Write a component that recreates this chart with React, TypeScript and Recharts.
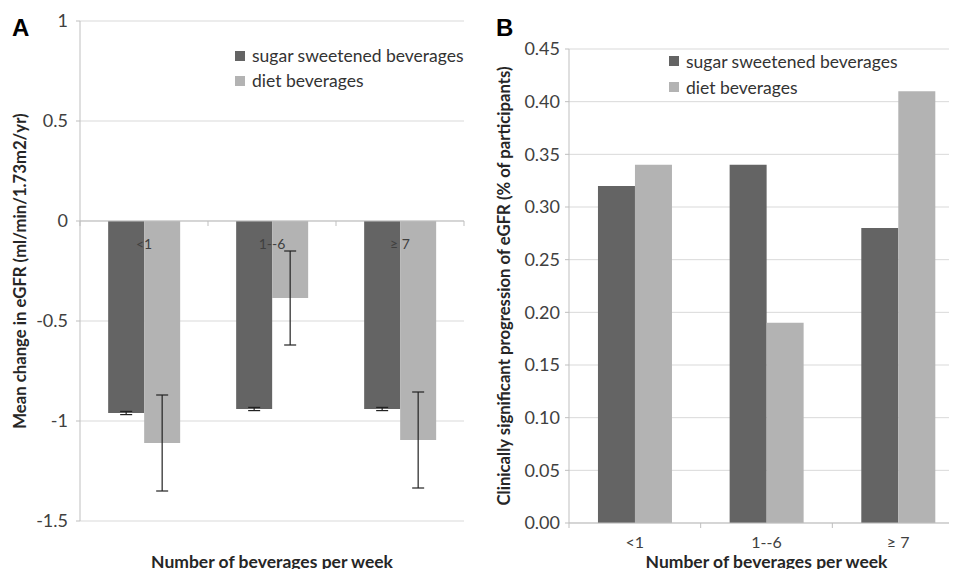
import { BarChart, Bar, XAxis, YAxis, CartesianGrid, Legend, ErrorBar, ReferenceLine } from 'recharts';

const categories = ['<1', '1--6', '≥ 7'];
const seriesNames = ['sugar sweetened beverages', 'diet beverages'];
const seriesColors = ['#646464', '#b3b3b3'];

// panel A: mean change in eGFR
const sugarChangeA = [-0.96, -0.94, -0.94];
const sugarErrA = [0.008, 0.008, 0.008];
const dietChangeA = [-1.11, -0.385, -1.095];
const dietErrA = [0.24, 0.235, 0.24];
const yTicksA = [-1.5, -1, -0.5, 0, 0.5, 1];

// panel B: clinically significant progression
const sugarProgB = [0.32, 0.34, 0.28];
const dietProgB = [0.34, 0.19, 0.41];
const yTicksB = [0, 0.05, 0.1, 0.15, 0.2, 0.25, 0.3, 0.35, 0.4, 0.45];

const FONT = 'Lato, "Open Sans", sans-serif';
const GRID = '#d9d9d9';
const AXIS = '#bfbfbf';
const TEXT = '#404040';

const dataA = categories.map((c, i) => ({
  cat: c,
  sugar: sugarChangeA[i],
  sugarErr: sugarErrA[i],
  diet: dietChangeA[i],
  dietErr: dietErrA[i],
}));

const dataB = categories.map((c, i) => ({ cat: c, sugar: sugarProgB[i], diet: dietProgB[i] }));

// plot areas (px)
const A_H = 500;
const A_W = 384;
const B_W = 395;

// category label drawn at the zero line; axis sits at plot bottom
const makeTick = (liftBy: number, half: number, fontSize: number, textDy: number) => (props: any) => {
  const { x, y, payload, index } = props;
  const y0 = y - liftBy;
  return (
    <g>
      <line x1={x - half} x2={x - half} y1={y0} y2={y0 + 5} stroke={AXIS} />
      {index === categories.length - 1 && <line x1={x + half} x2={x + half} y1={y0} y2={y0 + 5} stroke={AXIS} />}
      <text x={x} y={y0 + textDy} textAnchor="middle" fontSize={fontSize} fill={TEXT} fontFamily={FONT}>
        {payload.value}
      </text>
    </g>
  );
};

const renderLegend = (rowH: number) => () => (
  <div style={{ fontFamily: FONT, fontSize: 17.5, color: '#333' }}>
    {seriesNames.map((name, i) => (
      <div key={name} style={{ display: 'flex', alignItems: 'center', height: rowH, whiteSpace: 'nowrap' }}>
        <span style={{ display: 'inline-block', width: 10, height: 10, background: seriesColors[i], marginRight: 7 }} />
        <span>{name}</span>
      </div>
    ))}
  </div>
);

const yLabelStyle = { fontFamily: FONT, fontSize: 16.7, fontWeight: 700, fill: '#262626' };
const xLabelStyle = { fontFamily: FONT, fontSize: 17.5, fontWeight: 700, fill: '#262626' };
const tickStyle = { fill: TEXT, fontSize: 18, fontFamily: FONT };

export default function App() {
  return (
    <div style={{ position: 'relative', width: 957, height: 577, margin: -8, overflow: 'hidden', background: '#fff' }}>
      <div style={{ position: 'absolute', left: 12, top: 14, fontFamily: '"Liberation Sans", Arial, sans-serif', fontWeight: 700, fontSize: 24 }}>A</div>
      <div style={{ position: 'absolute', left: 496, top: 14, fontFamily: '"Liberation Sans", Arial, sans-serif', fontWeight: 700, fontSize: 24 }}>B</div>

      <div style={{ position: 'absolute', left: 0, top: 0 }}>
        <BarChart width={480} height={577} data={dataA} margin={{ top: 21, right: 16, bottom: 0, left: 20 }} barCategoryGap="22%" barGap={0}>
          <CartesianGrid vertical={false} stroke={GRID} />
          <XAxis
            dataKey="cat"
            height={56}
            axisLine={false}
            tickLine={false}
            tickSize={0}
            tickMargin={0}
            interval={0}
            tick={makeTick((A_H * 1.5) / 2.5, A_W / 6, 14, 28)}
            label={{ value: 'Number of beverages per week', position: 'insideBottom', offset: 9, style: xLabelStyle }}
          />
          <YAxis
            width={60}
            domain={[-1.5, 1]}
            ticks={yTicksA}
            interval={0}
            stroke={AXIS}
            tickSize={4}
            tickMargin={8}
            tick={tickStyle}
            label={{ value: 'Mean change in eGFR (ml/min/1.73m2/yr)', angle: -90, position: 'center', dx: -30, style: yLabelStyle }}
          />
          <ReferenceLine y={0} stroke={AXIS} />
          <Legend layout="vertical" align="center" verticalAlign="middle" wrapperStyle={{ left: 235, top: 43, width: 'auto', height: 'auto' }} content={renderLegend(25)} />
          <Bar dataKey="sugar" name={seriesNames[0]} fill={seriesColors[0]} isAnimationActive={false}>
            <ErrorBar dataKey="sugarErr" width={6} stroke="#222" strokeWidth={1.2} />
          </Bar>
          <Bar dataKey="diet" name={seriesNames[1]} fill={seriesColors[1]} isAnimationActive={false}>
            <ErrorBar dataKey="dietErr" width={6} stroke="#222" strokeWidth={1.2} />
          </Bar>
        </BarChart>
      </div>

      <div style={{ position: 'absolute', left: 480, top: 0 }}>
        <BarChart width={490} height={577} data={dataB} margin={{ top: 49, right: 6, bottom: 0, left: 29 }} barCategoryGap="22%" barGap={0}>
          <CartesianGrid vertical={false} stroke={GRID} />
          <XAxis
            dataKey="cat"
            height={54}
            stroke={AXIS}
            tickLine={false}
            tickSize={0}
            tickMargin={0}
            interval={0}
            tick={makeTick(0, B_W / 6, 16, 25)}
            label={{ value: 'Number of beverages per week', position: 'insideBottom', offset: 9, style: xLabelStyle }}
          />
          <YAxis
            width={60}
            domain={[0, 0.45]}
            ticks={yTicksB}
            interval={0}
            stroke={AXIS}
            tickSize={4}
            tickMargin={5}
            tickFormatter={(v: number) => v.toFixed(2)}
            tick={tickStyle}
            label={{ value: 'Clinically significant progression of eGFR (% of participants)', angle: -90, position: 'center', dx: -35, style: yLabelStyle }}
          />
          <Legend layout="vertical" align="center" verticalAlign="middle" wrapperStyle={{ left: 189, top: 48, width: 'auto', height: 'auto' }} content={renderLegend(26)} />
          <Bar dataKey="sugar" name={seriesNames[0]} fill={seriesColors[0]} isAnimationActive={false} />
          <Bar dataKey="diet" name={seriesNames[1]} fill={seriesColors[1]} isAnimationActive={false} />
        </BarChart>
      </div>
    </div>
  );
}
